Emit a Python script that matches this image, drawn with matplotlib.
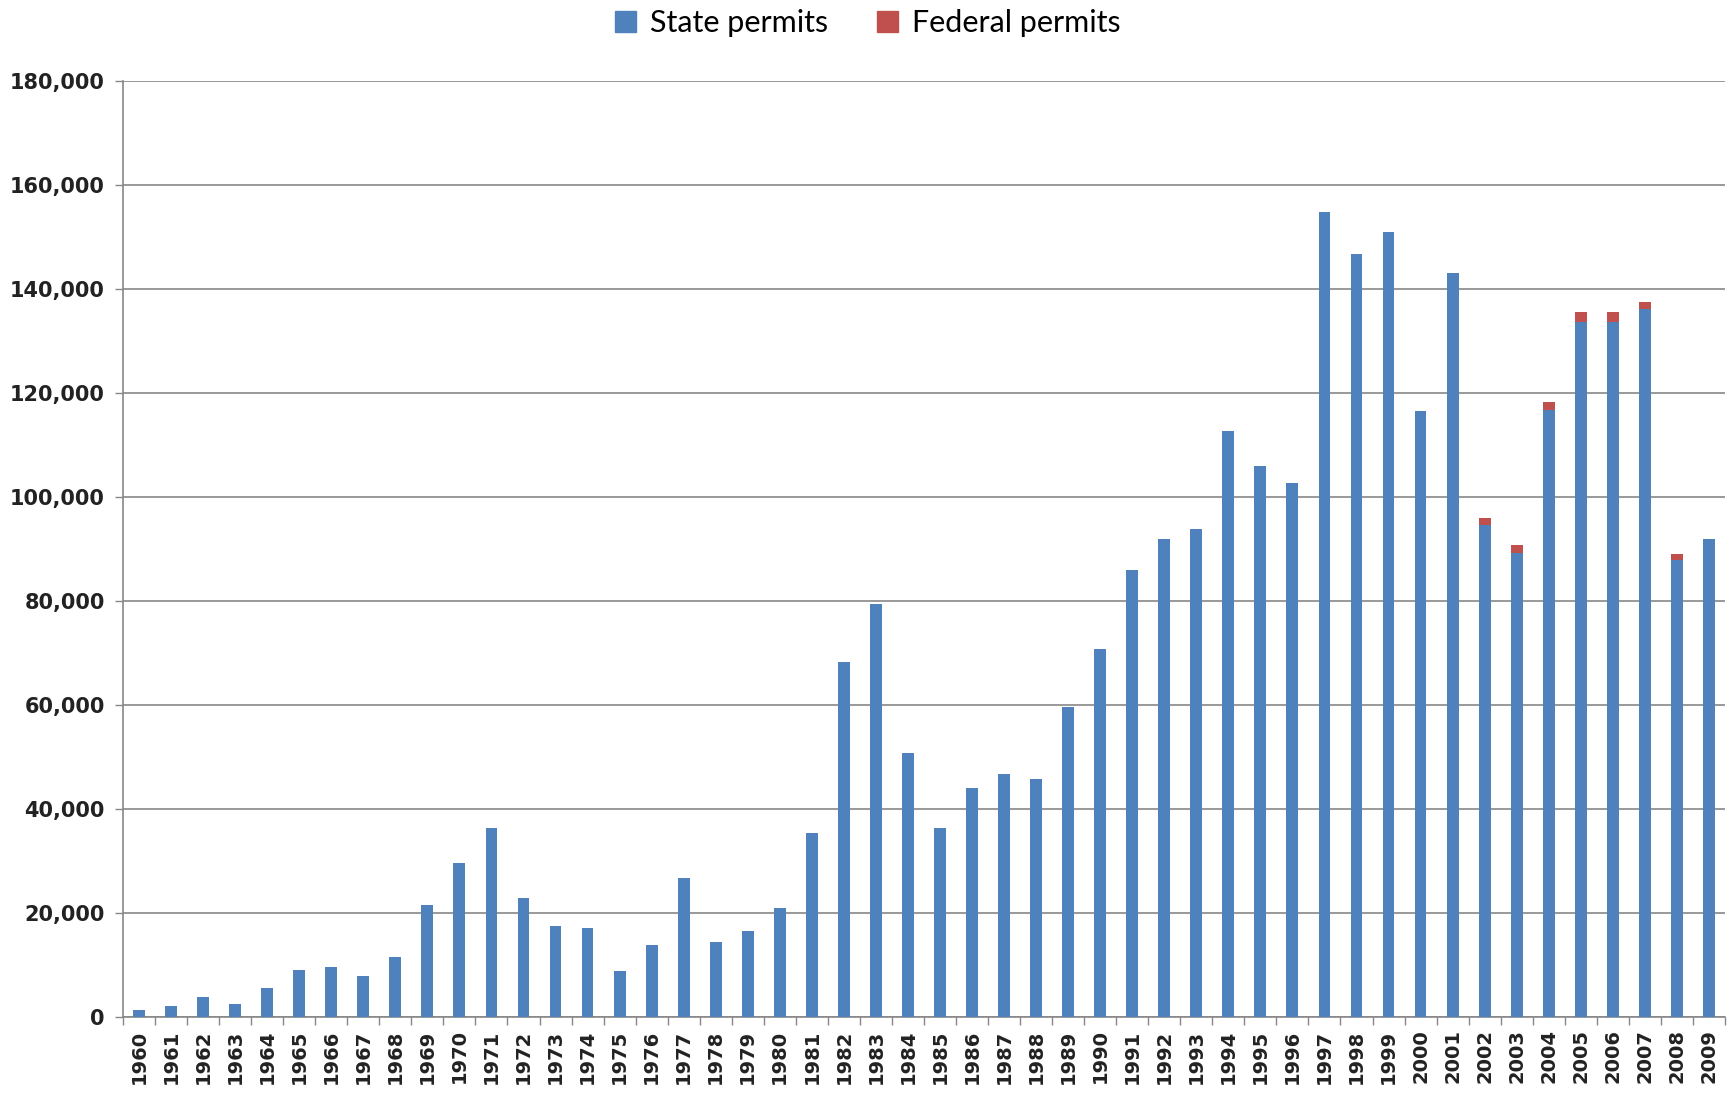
import numpy as np
import matplotlib
matplotlib.use("Agg")
import matplotlib.pyplot as plt
from matplotlib.patches import Patch
from matplotlib.ticker import FuncFormatter

# Permits per year
years = list(range(1960, 2010))
state_permits = [
    1300, 2200, 3900, 2450, 5500, 9100, 9650, 7850, 11450, 21600,
    29700, 36300, 22850, 17450, 17150, 8750, 13900, 26700, 14450, 16550,
    21000, 35400, 68300, 79400, 50700, 36350, 44050, 46750, 45850, 59700,
    70700, 86000, 91950, 93750, 112600, 106000, 102700, 154850, 146750, 150900,
    116500, 143150, 94650, 89250, 116700, 133600, 133600, 136200, 87900, 92000,
]
federal_permits = [0] * 42 + [1300, 1550, 1600, 1900, 1900, 1350, 1150, 0]

blue = "#4F81BD"
red = "#C0504D"
grey = "#878787"

fig = plt.figure(figsize=(17.35, 11), dpi=100)
ax = fig.add_axes([0.0709, 0.0755, 0.9233, 0.8509])

x = np.arange(len(years))
ax.bar(x, state_permits, width=0.37, color=blue, zorder=3)
ax.bar(x, federal_permits, width=0.37, bottom=state_permits, color=red, zorder=3)

ax.set_xlim(-0.5, len(years) - 0.5)
ax.set_ylim(0, 180000)
ax.set_yticks(np.arange(0, 180001, 20000))
ax.yaxis.set_major_formatter(FuncFormatter(lambda v, p: f"{int(v):,}"))
ax.yaxis.grid(True, color=grey, linewidth=1.2, zorder=0)

# Excel-style category ticks between bars, labels at centres
ax.set_xticks(x)
ax.set_xticklabels([str(y) for y in years], rotation=90, va="top", ha="center")
ax.set_xticks(np.arange(-0.5, len(years), 1), minor=True)
ax.tick_params(axis="x", which="major", length=0, pad=9)
ax.tick_params(axis="x", which="minor", length=6, width=1, color=grey, direction="out")
ax.tick_params(axis="y", length=6, width=1, color=grey, direction="out", pad=7)

for lab in ax.get_xticklabels():
    lab.set_fontfamily("DejaVu Sans")
    lab.set_fontweight("bold")
    lab.set_fontsize(14)
    lab.set_color("#222222")
for lab in ax.get_yticklabels():
    lab.set_fontfamily("DejaVu Sans")
    lab.set_fontweight("bold")
    lab.set_fontsize(15)
    lab.set_color("#222222")

for s in ["top", "right"]:
    ax.spines[s].set_visible(False)
for s in ["left", "bottom"]:
    ax.spines[s].set_color(grey)
    ax.spines[s].set_linewidth(1.2)

handles = [Patch(color=blue, label="State permits"), Patch(color=red, label="Federal permits")]
fig.legend(handles=handles, loc="center", bbox_to_anchor=(0.5, 0.979), ncol=2,
           frameon=False, handlelength=0.7, handleheight=0.7, handletextpad=0.45,
           columnspacing=1.6, prop={"family": "Lato", "size": 22})

plt.savefig("out.png", dpi=100)
